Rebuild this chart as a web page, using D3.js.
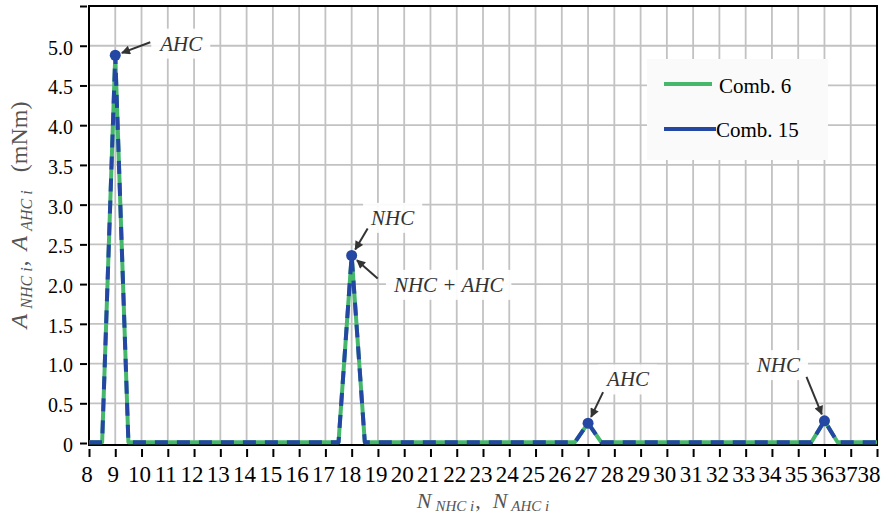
<!DOCTYPE html>
<html>
<head>
<meta charset="utf-8">
<script src="https://cdn.jsdelivr.net/npm/d3@7"></script>
<style>
  body { margin: 0; background: #fff; }
  svg { display: block; }
  text { font-family: "Liberation Serif", "Times New Roman", serif; }
</style>
</head>
<body>
<svg id="chart" width="883" height="518"></svg>
<script>
// Harmonic order positions, sampled every half step
const harmonicOrders = [
  8, 8.5, 9, 9.5, 10, 10.5, 11, 11.5, 12, 12.5, 13, 13.5, 14, 14.5, 15, 15.5,
  16, 16.5, 17, 17.5, 18, 18.5, 19, 19.5, 20, 20.5, 21, 21.5, 22, 22.5, 23, 23.5,
  24, 24.5, 25, 25.5, 26, 26.5, 27, 27.5, 28, 28.5, 29, 29.5, 30, 30.5, 31, 31.5,
  32, 32.5, 33, 33.5, 34, 34.5, 35, 35.5, 36, 36.5, 37, 37.5, 38
];

// Harmonic amplitudes (mNm)
const comb6Values = [
  0.01, 0.01, 4.88, 0.01,
  0.01, 0.01, 0.01, 0.01, 0.01, 0.01, 0.01, 0.01,
  0.01, 0.01, 0.01, 0.01, 0.01, 0.01, 0.01, 0.01,
  2.36, 0.01, 0.01, 0.01, 0.01, 0.01, 0.01, 0.01,
  0.01, 0.01, 0.01, 0.01, 0.01, 0.01, 0.01, 0.01,
  0.01, 0.01, 0.25, 0.01, 0.01, 0.01, 0.01, 0.01,
  0.01, 0.01, 0.01, 0.01, 0.01, 0.01, 0.01, 0.01,
  0.01, 0.01, 0.01, 0.01, 0.28, 0.01, 0.01, 0.01,
  0.01
];
const comb15Values = [
  0.01, 0.01, 4.88, 0.01,
  0.01, 0.01, 0.01, 0.01, 0.01, 0.01, 0.01, 0.01,
  0.01, 0.01, 0.01, 0.01, 0.01, 0.01, 0.01, 0.01,
  2.36, 0.01, 0.01, 0.01, 0.01, 0.01, 0.01, 0.01,
  0.01, 0.01, 0.01, 0.01, 0.01, 0.01, 0.01, 0.01,
  0.01, 0.01, 0.25, 0.01, 0.01, 0.01, 0.01, 0.01,
  0.01, 0.01, 0.01, 0.01, 0.01, 0.01, 0.01, 0.01,
  0.01, 0.01, 0.01, 0.01, 0.28, 0.01, 0.01, 0.01,
  0.01
];

const seriesNames = ["Comb. 6", "Comb. 15"];

const xTickValues = [8, 9, 10, 11, 12, 13, 14, 15, 16, 17, 18, 19, 20, 21, 22, 23,
  24, 25, 26, 27, 28, 29, 30, 31, 32, 33, 34, 35, 36, 37, 38];
const xTickLabels = ["8", "9", "10", "11", "12", "13", "14", "15", "16", "17", "18", "19",
  "20", "21", "22", "23", "24", "25", "26", "27", "28", "29", "30", "31", "32", "33",
  "34", "35", "36", "37", "38"];
const yTickValues = [0, 0.5, 1, 1.5, 2, 2.5, 3, 3.5, 4, 4.5, 5, 5.5];
const yTickLabels = ["0", "0.5", "1.0", "1.5", "2.0", "2.5", "3.0", "3.5", "4.0", "4.5", "5.0", ""];

// Marked harmonics and their callouts
const peakOrders = [9, 18, 27, 36];
const calloutTexts = ["AHC", "NHC", "NHC + AHC", "AHC", "NHC"];
const calloutOrders = [9, 18, 18, 27, 36];

// ---------------------------------------------------------------------------
const GREEN = "#45b86b";
const BLUE = "#2347a3";
const GRID = "#c2c2c2";
const INK = "#333333";

const svg = d3.select("#chart");
svg.append("rect").attr("width", 883).attr("height", 518).attr("fill", "#fff");

const plot = { left: 89, right: 877, top: 6, bottom: 445 };
const x = d3.scaleLinear().domain([8, 38]).range([plot.left, plot.right]);
const y = d3.scaleLinear().domain([-0.025, 5.5]).range([plot.bottom, plot.top]);

// grid
const grid = svg.append("g").attr("stroke", GRID).attr("stroke-width", 1.8);
grid.selectAll("line.v").data(xTickValues.slice(1, -1)).join("line")
  .attr("class", "v")
  .attr("x1", d => x(d)).attr("x2", d => x(d))
  .attr("y1", plot.top).attr("y2", plot.bottom);
grid.selectAll("line.h").data(yTickValues.slice(1, -1)).join("line")
  .attr("class", "h")
  .attr("x1", plot.left).attr("x2", plot.right)
  .attr("y1", d => y(d)).attr("y2", d => y(d));

// axes (ticks sit slightly off the frame)
const yAxis = d3.axisLeft(y)
  .tickValues(yTickValues)
  .tickFormat((d, i) => yTickLabels[i])
  .tickSize(7).tickPadding(7);
const yg = svg.append("g").attr("transform", `translate(${plot.left - 2},0)`).call(yAxis);
yg.select(".domain").remove();
yg.selectAll(".tick line").attr("stroke", "#000").attr("stroke-width", 2);
yg.selectAll(".tick text").attr("font-size", 20).attr("fill", "#000")
  .attr("font-family", "'Liberation Serif', serif").attr("dy", "0.42em");

const xAxis = d3.axisBottom(x)
  .tickValues(xTickValues)
  .tickFormat((d, i) => xTickLabels[i])
  .tickSize(8).tickPadding(9);
const xg = svg.append("g").attr("transform", `translate(0,${plot.bottom + 4})`).call(xAxis);
xg.select(".domain").remove();
xg.selectAll(".tick line").attr("stroke", "#000").attr("stroke-width", 2);
// the last labels crowd together a little toward the right edge
const n = xTickValues.length;
xg.selectAll(".tick text").attr("font-size", 23).attr("fill", "#000")
  .attr("font-family", "'Liberation Serif', serif")
  .attr("dx", (d, i) => i === n - 1 ? -8.5 : i === n - 2 ? -5 : -2.5);

// frame
svg.append("rect")
  .attr("x", plot.left).attr("y", plot.top)
  .attr("width", plot.right - plot.left).attr("height", plot.bottom - plot.top)
  .attr("fill", "none").attr("stroke", "#000").attr("stroke-width", 2);

// series
const line = d3.line().x(d => x(d[0])).y(d => y(d[1]));
const pts6 = harmonicOrders.map((h, i) => [h, comb6Values[i]]);
const pts15 = harmonicOrders.map((h, i) => [h, comb15Values[i]]);

svg.append("path").datum(pts6).attr("d", line)
  .attr("fill", "none").attr("stroke", GREEN).attr("stroke-width", 4)
  .attr("stroke-linejoin", "round");
svg.append("path").datum(pts15).attr("d", line)
  .attr("fill", "none").attr("stroke", BLUE).attr("stroke-width", 4)
  .attr("stroke-dasharray", "13,9").attr("stroke-linejoin", "round");

const valueAt = h => comb15Values[harmonicOrders.indexOf(h)];
svg.append("g").selectAll("circle").data(peakOrders).join("circle")
  .attr("cx", d => x(d)).attr("cy", d => y(valueAt(d)))
  .attr("r", 5.5).attr("fill", BLUE);

// callouts
svg.append("defs").append("marker")
  .attr("id", "head").attr("viewBox", "0 0 10 10")
  .attr("refX", 9).attr("refY", 5)
  .attr("markerWidth", 11).attr("markerHeight", 9)
  .attr("markerUnits", "userSpaceOnUse")
  .attr("orient", "auto")
  .append("path").attr("d", "M0,0 L10,5 L0,10 z").attr("fill", INK);

// label centre and arrow tail offsets from each marked point
const calloutLayout = [
  { lx: 66, ly: -12, ax: 35, ay: -13 },
  { lx: 41, ly: -38, ax: 16, ay: -27 },
  { lx: 97, ly: 29, ax: 26, ay: 23 },
  { lx: 40, ly: -44, ax: 15, ay: -31 },
  { lx: -46, ly: -56, ax: -18, ay: -44 }
];

const cg = svg.append("g");
calloutTexts.forEach((t, i) => {
  const px = x(calloutOrders[i]);
  const py = y(valueAt(calloutOrders[i]));
  const L = calloutLayout[i];
  const g = cg.append("g");
  const txt = g.append("text")
    .attr("x", px + L.lx).attr("y", py + L.ly)
    .attr("text-anchor", "middle").attr("dy", "0.35em")
    .attr("font-size", 21).attr("font-style", "italic").attr("fill", INK)
    .text(t);
  const bb = txt.node().getBBox();
  g.insert("rect", "text")
    .attr("x", bb.x - 7).attr("y", bb.y - 3)
    .attr("width", bb.width + 14).attr("height", bb.height + 6)
    .attr("fill", "#fff").attr("fill-opacity", 0.92);
  const sx = px + L.ax, sy = py + L.ay;
  const len = Math.hypot(sx - px, sy - py);
  const ex = px + (sx - px) / len * 7, ey = py + (sy - py) / len * 7;
  g.append("line")
    .attr("x1", sx).attr("y1", sy).attr("x2", ex).attr("y2", ey)
    .attr("stroke", INK).attr("stroke-width", 2)
    .attr("marker-end", "url(#head)");
});

// legend
const lg = svg.append("g");
lg.append("rect").attr("x", 647).attr("y", 59).attr("width", 181).attr("height", 101)
  .attr("fill", "#fafafa");
const legendItems = [
  { name: seriesNames[0], color: GREEN, y: 84, x2: 712, tx: 719, ty: 93 },
  { name: seriesNames[1], color: BLUE, y: 129, x2: 716, tx: 716, ty: 137 }
];
legendItems.forEach(it => {
  lg.append("line").attr("x1", 664).attr("x2", it.x2).attr("y1", it.y).attr("y2", it.y)
    .attr("stroke", it.color).attr("stroke-width", 4);
  lg.append("text").attr("x", it.tx).attr("y", it.ty)
    .attr("font-size", 21).attr("fill", "#000").text(it.name);
});

// axis titles
const yt = svg.append("text")
  .attr("transform", "translate(27,215) rotate(-90)")
  .attr("text-anchor", "middle").attr("font-size", 24).attr("fill", "#555");
yt.append("tspan").attr("font-style", "italic").text("A");
yt.append("tspan").attr("font-style", "italic").attr("font-size", 16).attr("dx", 5).attr("dy", 5).text("NHC i");
yt.append("tspan").attr("dy", -5).attr("dx", 1).text(",");
yt.append("tspan").attr("font-style", "italic").attr("dx", 10).text("A");
yt.append("tspan").attr("font-style", "italic").attr("font-size", 16).attr("dx", 5).attr("dy", 5).text("AHC i");
yt.append("tspan").attr("dy", -5).attr("dx", 18).text("(mNm)");

const xt = svg.append("text")
  .attr("x", (plot.left + plot.right) / 2).attr("y", 508)
  .attr("text-anchor", "middle").attr("font-size", 22).attr("fill", "#555");
xt.append("tspan").attr("font-style", "italic").text("N");
xt.append("tspan").attr("font-style", "italic").attr("font-size", 15).attr("dx", 4).attr("dy", 3).text("NHC i");
xt.append("tspan").attr("dy", -3).attr("dx", 1).text(",");
xt.append("tspan").attr("font-style", "italic").attr("dx", 12).text("N");
xt.append("tspan").attr("font-style", "italic").attr("font-size", 15).attr("dx", 4).attr("dy", 3).text("AHC i");
</script>
</body>
</html>
